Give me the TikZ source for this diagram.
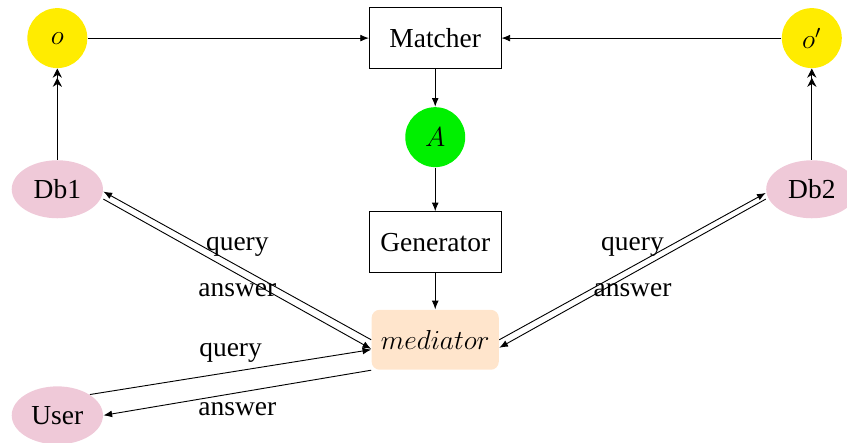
\documentclass[tikz,border=0pt,12pt]{standalone}
\usepackage{amsfonts, amsmath, amssymb}
\usepackage{fontspec}
\setmainfont{Liberation Serif}
\usepackage{tikz}
\usetikzlibrary{shapes.geometric, arrows.meta}

\definecolor{sunny}{RGB}{255,236,0}
\definecolor{leaf}{RGB}{0,240,0}
\definecolor{rosy}{RGB}{239,201,216}
\definecolor{peach}{RGB}{255,229,204}

\tikzset{
  onto/.style={circle, fill=sunny, minimum size=0.92cm, inner sep=0pt},
  align/.style={circle, fill=leaf, minimum size=0.92cm, inner sep=0pt},
  proc/.style={draw, rectangle, minimum width=2.02cm, minimum height=0.93cm},
  med/.style={rectangle, rounded corners=3.5pt, fill=peach, minimum width=1.92cm, minimum height=0.92cm},
  src/.style={ellipse, fill=rosy, minimum width=1.40cm, minimum height=0.89cm, inner sep=0pt},
  dbl/.style={-{Stealth[length=4pt,width=4pt]Stealth[length=4pt,width=4pt]}}
}

\begin{document}
\begin{tikzpicture}[>={Latex[length=3.8pt,width=3pt]}]
                \useasboundingbox (0,0) rectangle (13.0,6.785);

                % Draw ontologies and matching chain
                \node[onto] (o) at (0.88, 6.20) {$o$};
                \node[onto] (o2) at (12.46, 6.20) {$o'$};
                \node[proc] (matcher) at (6.68, 6.20) {Matcher};
                \node[align] (A) at (6.68, 4.68) {$A$};
                \node[proc] (generator) at (6.68, 3.07) {Generator};
                \node[med] (mediator) at (6.68, 1.57) {$mediator$};

                % Draw sources and user
                \node[src] (db1) at (0.88, 3.88) {Db1};
                \node[src] (db2) at (12.46, 3.88) {Db2};
                \node[src] (user) at (0.88, 0.41) {User};

                % Draw arrows
                \draw[->] (o) -- (matcher);
                \draw[->] (o2) -- (matcher);
                \draw[->] (matcher) -- (A);
                \draw[->] (A) -- (generator);
                \draw[->] (generator) -- (mediator);
                \draw[dbl] (db1) -- (o);
                \draw[dbl] (db2) -- (o2);

                \draw[->] (mediator.west) -- node[midway, above] {query} ([yshift=-1pt]db1.east);
                \draw[->] ([yshift=-4.3pt]db1.east) -- node[midway, below] {answer} ([yshift=-4pt]mediator.west);
                \draw[->] (mediator.east) -- node[midway, above] {query} ([yshift=-1.6pt]db2.west);
                \draw[->] ([yshift=-4.3pt]db2.west) -- node[midway, below] {answer} ([yshift=-3.5pt]mediator.east);
                \draw[->] (user.north east) -- node[midway, above] {query} ([yshift=-4.3pt]mediator.west);
                \draw[->] (mediator.south west) -- node[midway, below] {answer} (user.east);
\end{tikzpicture}
\end{document}
